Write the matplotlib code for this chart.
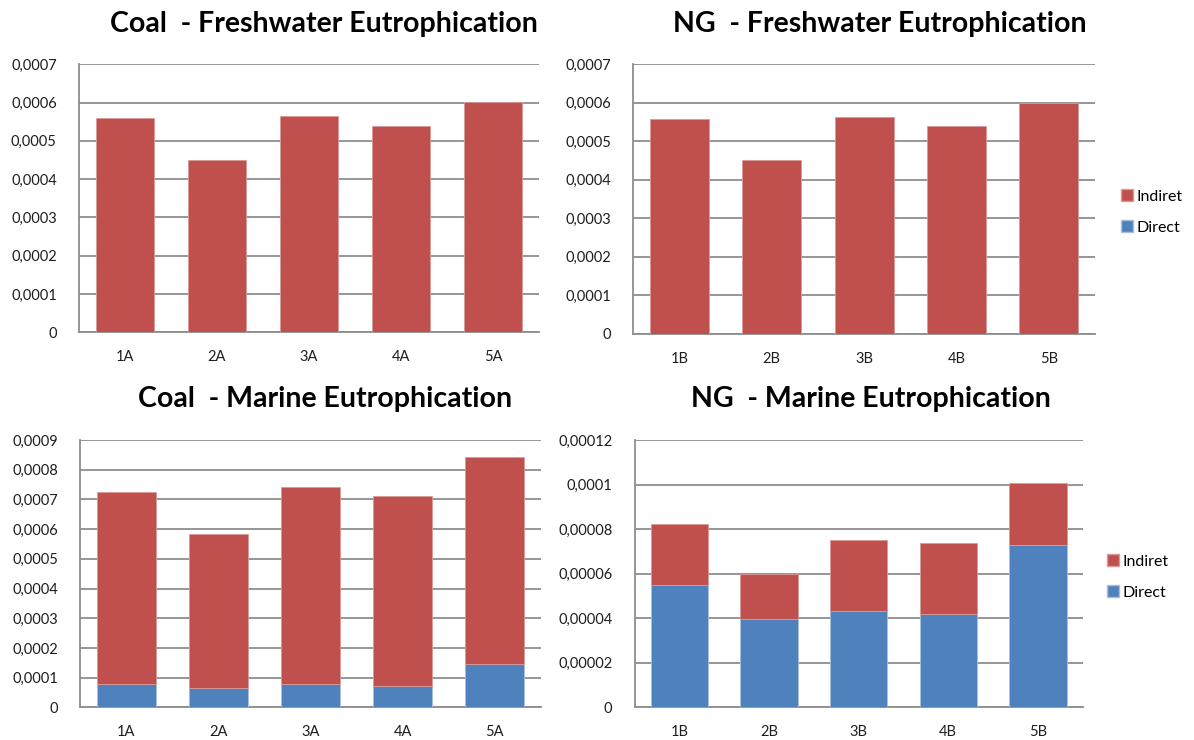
import matplotlib
matplotlib.use("Agg")
import matplotlib.pyplot as plt
from matplotlib.ticker import MultipleLocator, FuncFormatter
from matplotlib.patches import Patch

plt.rcParams['font.family'] = ['Lato', 'DejaVu Sans']

# Scenario labels
coal_cases = ["1A", "2A", "3A", "4A", "5A"]
ng_cases = ["1B", "2B", "3B", "4B", "5B"]

# Freshwater eutrophication (direct / indirect contributions)
coal_fw_direct = [0.0, 0.0, 0.0, 0.0, 0.0]
coal_fw_indirect = [0.000560, 0.000451, 0.000566, 0.000538, 0.000601]
ng_fw_direct = [0.0, 0.0, 0.0, 0.0, 0.0]
ng_fw_indirect = [0.000557, 0.000451, 0.000564, 0.000539, 0.000599]

# Marine eutrophication (direct / indirect contributions)
coal_me_direct = [0.000078, 0.000065, 0.000078, 0.000073, 0.000147]
coal_me_indirect = [0.000646, 0.000518, 0.000664, 0.000637, 0.000696]
ng_me_direct = [0.0000548, 0.0000395, 0.0000431, 0.0000420, 0.0000729]
ng_me_indirect = [0.0000276, 0.0000204, 0.0000321, 0.0000319, 0.0000279]

RED = "#C0504D"
BLUE = "#4F81BD"
GRID = "#8E8E8E"
TXT = "#1E1E1E"

W, H = 1194, 740
fig = plt.figure(figsize=(W / 100, H / 100), dpi=100)


def px_axes(x0, y_top, x1, y_bot):
    return fig.add_axes([x0 / W, 1 - y_bot / H, (x1 - x0) / W, (y_bot - y_top) / H])


def comma_fmt(v, pos):
    if abs(v) < 1e-12:
        return "0"
    s = f"{v:.6f}".rstrip("0").rstrip(".")
    return s.replace(".", ",")


def panel(ax, cats, direct, indirect, ymax, step, legend_at=None):
    x = range(len(cats))
    ax.bar(x, direct, width=0.64, color=BLUE, edgecolor="#A9BFDD", linewidth=0.6,
           label="Direct", zorder=3)
    ax.bar(x, indirect, width=0.64, bottom=direct, color=RED, edgecolor="#DA9A98",
           linewidth=0.6, label="Indiret", zorder=3)
    ax.set_xlim(-0.5, len(cats) - 0.5)
    ax.set_ylim(0, ymax)
    ax.yaxis.set_major_locator(MultipleLocator(step))
    ax.yaxis.set_major_formatter(FuncFormatter(comma_fmt))
    ax.set_xticks(list(x))
    ax.set_xticklabels(cats)
    ax.grid(axis="y", color=GRID, linewidth=1.3, zorder=0)
    ax.set_axisbelow(True)
    for side in ("top", "right"):
        ax.spines[side].set_visible(False)
    for side in ("left", "bottom"):
        ax.spines[side].set_color(GRID)
        ax.spines[side].set_linewidth(1.3)
    ax.tick_params(axis="both", length=0, labelsize=10.5, labelcolor=TXT)
    ax.tick_params(axis="y", pad=16)
    ax.tick_params(axis="x", pad=13)
    if legend_at is not None:
        handles = [Patch(facecolor=RED, edgecolor="#DA9A98"),
                   Patch(facecolor=BLUE, edgecolor="#A9BFDD")]
        lx, ly = legend_at
        fig.legend(handles, ["Indiret", "Direct"], loc="center left",
                   bbox_to_anchor=(lx / W, 1 - ly / H), frameon=False, fontsize=11.5,
                   handlelength=0.75, handleheight=0.75, handletextpad=0.2,
                   labelspacing=1.05, borderaxespad=0, borderpad=0)


ax1 = px_axes(79, 64.3, 539, 332.3)
panel(ax1, coal_cases, coal_fw_direct, coal_fw_indirect, 0.0007, 0.0001)

ax2 = px_axes(633.3, 64.3, 1095, 333.7)
panel(ax2, ng_cases, ng_fw_direct, ng_fw_indirect, 0.0007, 0.0001,
      legend_at=(1121, 212))

ax3 = px_axes(80.3, 440, 540.7, 707.3)
panel(ax3, coal_cases, coal_me_direct, coal_me_indirect, 0.0009, 0.0001)

ax4 = px_axes(634.7, 440, 1082.7, 707.3)
panel(ax4, ng_cases, ng_me_direct, ng_me_indirect, 0.00012, 0.00002,
      legend_at=(1107, 577))

title_kw = dict(ha="center", va="center", fontsize=20.5, fontweight="bold", color="black")
fig.text(324 / W, 1 - 24 / H, "Coal  - Freshwater Eutrophication", **title_kw)
fig.text(880 / W, 1 - 24 / H, "NG  - Freshwater Eutrophication", **title_kw)
fig.text(325 / W, 1 - 399 / H, "Coal  - Marine Eutrophication", **title_kw)
fig.text(871 / W, 1 - 399 / H, "NG  - Marine Eutrophication", **title_kw)

fig.savefig("out.png", dpi=100, facecolor="white")
